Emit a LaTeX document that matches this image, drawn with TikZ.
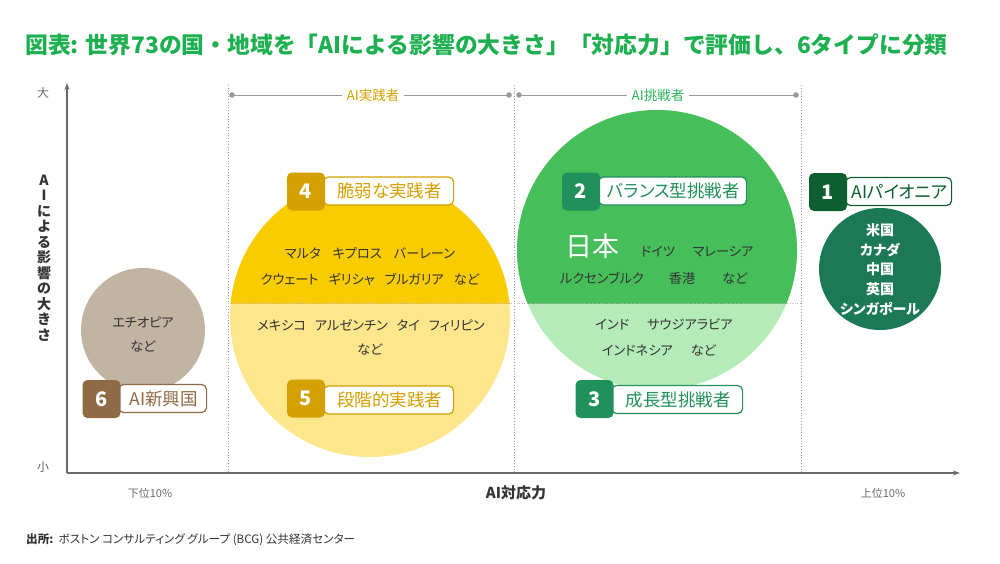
\documentclass[tikz,border=0pt]{standalone}
\usepackage{fontspec}
\setmainfont{Noto Sans CJK JP}[RawFeature={+palt}]
\newfontfamily\titlefont{Noto Sans CJK JP}
\usetikzlibrary{arrows.meta}
\definecolor{titlegreen}{HTML}{1EAF50}
\definecolor{gold}{HTML}{D4A000}
\definecolor{ydark}{HTML}{F9CC00}
\definecolor{ylight}{HTML}{FDE68C}
\definecolor{gmid}{HTML}{46BE5A}
\definecolor{glight}{HTML}{B4EBB9}
\definecolor{gbadge}{HTML}{21905A}
\definecolor{gchal}{HTML}{2DB55D}
\definecolor{dkcircle}{HTML}{1B7A55}
\definecolor{dkbadge}{HTML}{0D5E30}
\definecolor{brcircle}{HTML}{C2B4A2}
\definecolor{brbadge}{HTML}{8E6B45}
\definecolor{axisgray}{HTML}{6A6A6A}
\definecolor{dotgray}{HTML}{9A9A9A}
\definecolor{bodytext}{HTML}{333333}
\tikzset{
  numbox/.style={rectangle, rounded corners=5pt, minimum width=38pt, minimum height=38pt, inner sep=0pt, text=white, font=\fontsize{20}{20}\selectfont\bfseries},
  txtbox/.style={rectangle, rounded corners=5pt, fill=white, line width=1.2pt, minimum height=28pt, inner sep=0pt, anchor=west, font=\fontsize{17.5}{18}\selectfont},
  body/.style={text=bodytext, font=\fontsize{13.2}{14}\selectfont, inner sep=0pt},
  whitebold/.style={text=white, font=\fontsize{14}{14}\selectfont\bfseries, inner sep=0pt},
  colline/.style={dotgray, line width=0.8pt, dotted},
  bracket/.style={dotgray, line width=1pt},
  axis/.style={axisgray, line width=1.3pt, -{Stealth[length=7pt,width=5pt]}},
  small/.style={text=axisgray, font=\fontsize{11}{11}\selectfont, inner sep=0pt}
}
\begin{document}
\begin{tikzpicture}[x=1pt,y=-1pt]
\useasboundingbox (0,0) rectangle (1000,563);
% title
\node[anchor=west, inner sep=0pt, text=titlegreen, font=\titlefont\bfseries\fontsize{22.8}{23}\selectfont] (title) at (25,45) {図表: 世界73の国・地域を「AIによる影響の大きさ」「対応力」で評価し、6タイプに分類};

% column dotted lines
\coordinate (c1t) at (228,85); \coordinate (c1b) at (228,473);
\coordinate (c2t) at (514,85); \coordinate (c2b) at (514,473);
\coordinate (c3t) at (801,85); \coordinate (c3b) at (801,473);
\draw[colline] (c1t) -- (c1b);
\draw[colline] (c2t) -- (c2b);
\draw[colline] (c3t) -- (c3b);

% brackets
\coordinate (b1l) at (232,95); \coordinate (b1r) at (509,95);
\coordinate (b2l) at (519,95); \coordinate (b2r) at (796,95);
\draw[bracket] (b1l) -- (b1r);
\draw[bracket] (b2l) -- (b2r);
\fill[dotgray] (b1l) circle (2.8); \fill[dotgray] (b1r) circle (2.8);
\fill[dotgray] (b2l) circle (2.8); \fill[dotgray] (b2r) circle (2.8);
\node[fill=white, inner xsep=5pt, inner ysep=2pt, text=gold, font=\fontsize{13.5}{14}\selectfont] (l1) at (373,95) {AI実践者};
\node[fill=white, inner xsep=5pt, inner ysep=2pt, text=gchal, font=\fontsize{13.5}{14}\selectfont] (l2) at (658,95) {AI挑戦者};

% yellow circle
\fill[ylight] (370,317) circle (140);
\begin{scope}
  \clip (200,150) rectangle (540,303);
  \fill[ydark] (370,317) circle (140);
\end{scope}
% green circle
\fill[glight] (657,250) circle (140);
\begin{scope}
  \clip (500,100) rectangle (820,303);
  \fill[gmid] (657,250) circle (140);
\end{scope}
% brown circle
\fill[brcircle] (143,330) circle (62);
% dark green circle
\fill[dkcircle] (880,269) circle (61);

% horizontal split dotted line
\coordinate (h1) at (228,303); \coordinate (h2) at (801,303);
\draw[dotgray!70, line width=0.6pt, dotted] (h1) -- (h2);

% axes
\coordinate (O) at (67,473);
\coordinate (ytop) at (67,83);
\coordinate (xend) at (960,473);
\draw[axis] (O) -- (ytop);
\draw[axis] (O) -- (xend);
\node[small, font=\fontsize{12}{12}\selectfont] (ybig) at (43,93) {大};
\node[small, font=\fontsize{12}{12}\selectfont] (ysmall) at (43,467) {小};
\node[align=center, inner sep=0pt, text=bodytext, font=\fontsize{14}{15.5}\selectfont\bfseries] (ylab) at (44,258) {A\\I\\に\\よ\\る\\影\\響\\の\\大\\き\\さ};
\node[small] (xlow) at (150,493) {下位10\%};
\node[small] (xhigh) at (883,493) {上位10\%};
\node[inner sep=0pt, text=bodytext, font=\fontsize{15}{15}\selectfont\bfseries] (xlab) at (516,493) {AI対応力};

% source
\node[anchor=west, inner sep=0pt, text=bodytext, font=\fontsize{11.6}{12}\selectfont] (src) at (26,540) {\textbf{出所:}\ \ ボストン コンサルティング グループ (BCG) 公共経済センター};

% yellow texts
\node[body] (y1) at (370,253) {マルタ\hspace{12pt}キプロス\hspace{12pt}バーレーン};
\node[body] (y2) at (370,279) {クウェート\hspace{10pt}ギリシャ\hspace{10pt}ブルガリア\hspace{10pt}など};
\node[body] (y3) at (371,325) {メキシコ\hspace{9pt}アルゼンチン\hspace{9pt}タイ\hspace{9pt}フィリピン};
\node[body] (y4) at (370,349) {など};

% green texts
\node[inner sep=0pt, text=white, font=\fontsize{27}{27}\selectfont] (jp) at (592,246) {日本};
\node[body] (g1) at (658,252) {ドイツ};
\node[body] (g2) at (723,252) {マレーシア};
\node[body] (g3) at (602,278) {ルクセンブルク};
\node[body] (g4) at (682,278) {香港};
\node[body] (g5) at (735,278) {など};
\node[body] (g6) at (664,324) {インド\hspace{18pt}サウジアラビア};
\node[body] (g7) at (659,350) {インドネシア\hspace{18pt}など};

% brown texts
\node[body] (e1) at (143,322) {エチオピア};
\node[body] (e2) at (143,346) {など};

% dark green texts
\node[whitebold] (p1) at (880,230) {米国};
\node[whitebold] (p2) at (880,250) {カナダ};
\node[whitebold] (p3) at (880,269) {中国};
\node[whitebold] (p4) at (880,289) {英国};
\node[whitebold] (p5) at (880,309) {シンガポール};

% badges
\node[txtbox, draw=gold, text=gold, minimum width=130pt] (t4) at (323,191) {\hspace{2pt}脆弱な実践者};
\node[numbox, fill=gold] (n4) at (306,191.5) {4};
\node[txtbox, draw=gold, text=gold, minimum width=130pt] (t5) at (323,400) {\hspace{2pt}段階的実践者};
\node[numbox, fill=gold] (n5) at (306,398.5) {5};
\node[txtbox, draw=brbadge, text=brbadge, minimum width=88pt] (t6) at (118,398.5) {\hspace{2pt}AI新興国};
\node[numbox, fill=brbadge] (n6) at (101.5,399) {6};
\node[txtbox, draw=gbadge, text=gbadge, minimum width=148pt] (t2) at (598,191) {\hspace{2pt}バランス型挑戦者};
\node[numbox, fill=gbadge] (n2) at (581,191.5) {2};
\node[txtbox, draw=gbadge, text=gbadge, minimum width=131pt] (t3) at (611,399.5) {\hspace{2pt}成長型挑戦者};
\node[numbox, fill=gbadge] (n3) at (594.5,399) {3};
\node[txtbox, draw=dkbadge, text=dkbadge, minimum width=106pt] (t1) at (845,191.5) {\hspace{2pt}AIパイオニア};
\node[numbox, fill=dkbadge] (n1) at (828,192) {1};
\end{tikzpicture}
\end{document}
